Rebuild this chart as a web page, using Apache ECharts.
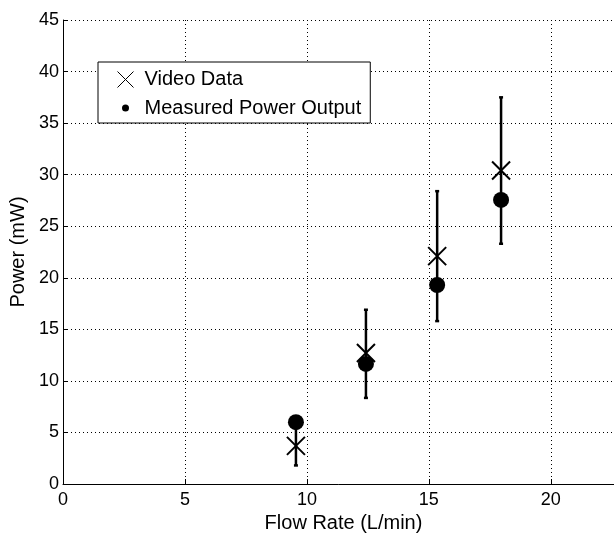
<!DOCTYPE html>
<html>
<head>
<meta charset="utf-8">
<script src="https://cdn.jsdelivr.net/npm/echarts@6/dist/echarts.min.js"></script>
<style>
  html, body { margin: 0; padding: 0; background: #fff; }
  #main { width: 614px; height: 534px; }
</style>
</head>
<body>
<div id="main"></div>
<script>
// flow rate (L/min) for each run
var flowRate = [9.55, 12.42, 15.34, 17.96];
// power estimated from video (mW)
var videoData = [3.7, 12.7, 22.1, 30.4];
// measured power output (mW)
var measuredPower = [6.0, 11.65, 19.3, 27.55];
// error bar ends around the video data (mW)
var errLow = [1.8, 8.35, 15.8, 23.3];
var errHigh = [5.6, 16.9, 28.4, 37.5];

var xTicks = [0, 5, 10, 15, 20];
var yTicks = [0, 5, 10, 15, 20, 25, 30, 35, 40, 45];

var FONT = 'Liberation Sans, Arial, sans-serif';
var crossPath = 'path://M0,0L16,16M16,0L0,16';
var smallDot = 'path://M0,0M16,16M4.5,8A3.5,3.5 0 1,0 11.5,8A3.5,3.5 0 1,0 4.5,8Z';

var chart = echarts.init(document.getElementById('main'));

chart.setOption({
    backgroundColor: '#fff',
    animation: false,
    grid: {
        left: 63,
        top: 20,
        width: 561,
        height: 464,
        containLabel: false,
        outerBoundsMode: 'none'
    },
    legend: {
        orient: 'vertical',
        left: 98,
        top: 62,
        padding: [7, 9, 5, 17],
        itemGap: 8,
        itemWidth: 16,
        itemHeight: 16,
        borderColor: '#000',
        borderWidth: 1,
        backgroundColor: '#fff',
        selectedMode: false,
        textStyle: {
            fontFamily: FONT,
            fontSize: 20,
            lineHeight: 20,
            color: '#000',
            padding: [0, 0, 0, 6]
        },
        data: [
            { name: 'Video Data', icon: crossPath,
              itemStyle: { color: 'none', borderColor: '#000', borderWidth: 1 } },
            { name: 'Measured Power Output', icon: smallDot,
              itemStyle: { color: '#000', borderWidth: 0 } }
        ]
    },
    xAxis: {
        type: 'value',
        min: 0,
        max: 23,
        interval: 5,
        name: 'Flow Rate (L/min)',
        nameLocation: 'middle',
        nameGap: 26,
        nameTextStyle: { fontFamily: FONT, fontSize: 20, color: '#000' },
        axisLine: { onZero: false, lineStyle: { color: '#000', width: 1 } },
        axisTick: { inside: true, length: 5, lineStyle: { color: '#000' } },
        axisLabel: {
            fontFamily: FONT, fontSize: 18, color: '#000', margin: 7,
            formatter: function (v) { return xTicks.indexOf(v) >= 0 ? String(v) : ''; }
        },
        splitLine: { show: true, lineStyle: { color: '#000', type: [1, 3], width: 1 } }
    },
    yAxis: {
        type: 'value',
        min: 0,
        max: 45,
        interval: 5,
        name: 'Power (mW)',
        nameLocation: 'middle',
        nameGap: 30,
        nameTextStyle: { fontFamily: FONT, fontSize: 20, color: '#000' },
        axisLine: { show: true, onZero: false, lineStyle: { color: '#000', width: 1 } },
        axisTick: { show: true, inside: true, length: 5, lineStyle: { color: '#000' } },
        axisLabel: {
            fontFamily: FONT, fontSize: 18, color: '#000', margin: 4,
            formatter: function (v) { return yTicks.indexOf(v) >= 0 ? String(v) : ''; }
        },
        splitLine: { show: true, lineStyle: { color: '#000', type: [1, 3], width: 1 } }
    },
    series: [
        {
            name: 'errorbars',
            type: 'custom',
            z: 1,
            silent: true,
            data: flowRate.map(function (x, i) { return [x, errLow[i], errHigh[i]]; }),
            renderItem: function (params, api) {
                var lo = api.coord([api.value(0), api.value(1)]);
                var hi = api.coord([api.value(0), api.value(2)]);
                var cap = 2;
                var st = { stroke: '#000', lineWidth: 2.5 };
                return {
                    type: 'group',
                    children: [
                        { type: 'line', shape: { x1: lo[0], y1: lo[1], x2: hi[0], y2: hi[1] }, style: st },
                        { type: 'line', shape: { x1: lo[0] - cap, y1: lo[1], x2: lo[0] + cap, y2: lo[1] }, style: st },
                        { type: 'line', shape: { x1: hi[0] - cap, y1: hi[1], x2: hi[0] + cap, y2: hi[1] }, style: st }
                    ]
                };
            }
        },
        {
            name: 'Measured Power Output',
            type: 'scatter',
            z: 2,
            symbol: 'circle',
            symbolSize: 16,
            itemStyle: { color: '#000', opacity: 1 },
            data: flowRate.map(function (x, i) { return [x, measuredPower[i]]; })
        },
        {
            name: 'Video Data',
            type: 'scatter',
            z: 3,
            symbol: crossPath,
            symbolSize: 18,
            itemStyle: { color: 'none', borderColor: '#000', borderWidth: 2, opacity: 1 },
            data: flowRate.map(function (x, i) { return [x, videoData[i]]; })
        }
    ]
});
</script>
</body>
</html>
